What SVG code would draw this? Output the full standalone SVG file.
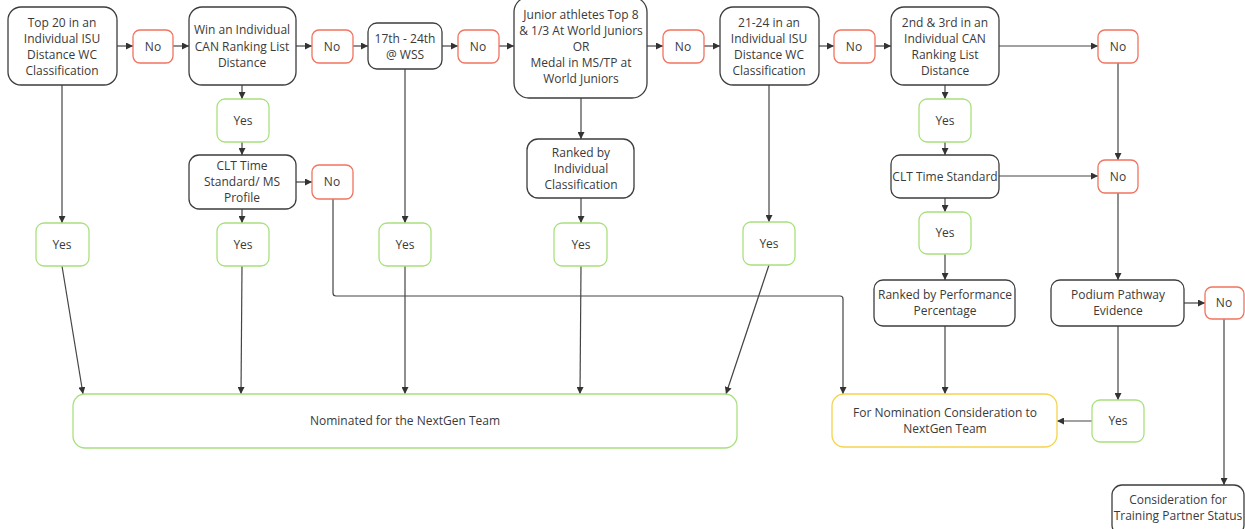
<svg xmlns="http://www.w3.org/2000/svg" width="1245" height="529" viewBox="0 0 1245 529">
<style>
.b{fill:#fff;stroke:#3d3d3d;stroke-width:1.3}
.n{fill:#fff;stroke:#f2735f;stroke-width:1.3}
.y{fill:#fff;stroke:#a8e07e;stroke-width:1.3}
.w{fill:#fff;stroke:#f5d44e;stroke-width:1.3}
text{font-family:"Open Sans","Liberation Sans",sans-serif;font-size:12px;fill:#3a3a3a;text-anchor:middle}
.c path,.c line{fill:none;stroke:#444;stroke-width:1.2;marker-end:url(#a)}
</style>
<defs>
<marker id="a" viewBox="0 0 10 10" refX="10" refY="5" markerWidth="7" markerHeight="7" markerUnits="userSpaceOnUse" orient="auto">
<path d="M0,0 L10,5 L0,10 z" fill="#333"/>
</marker>
</defs>
<rect width="1245" height="529" fill="#fff"/>
<g class="c">
<line x1="117" y1="46" x2="133" y2="46"/>
<line x1="173" y1="46" x2="189" y2="46"/>
<line x1="296" y1="46" x2="312" y2="46"/>
<line x1="353" y1="46" x2="368" y2="46"/>
<line x1="442" y1="46" x2="458" y2="46"/>
<line x1="499" y1="46" x2="514" y2="46"/>
<line x1="647" y1="46" x2="663" y2="46"/>
<line x1="704" y1="46" x2="720" y2="46"/>
<line x1="819" y1="46" x2="834" y2="46"/>
<line x1="875" y1="46" x2="891" y2="46"/>
<line x1="999" y1="46" x2="1098" y2="46"/>
<line x1="62" y1="85" x2="62" y2="223"/>
<line x1="242" y1="85" x2="242" y2="99"/>
<line x1="242" y1="142" x2="242" y2="155"/>
<line x1="242" y1="209" x2="242" y2="223"/>
<line x1="296" y1="182" x2="312" y2="182"/>
<line x1="405" y1="69" x2="405" y2="223"/>
<line x1="581" y1="98" x2="581" y2="139"/>
<line x1="581" y1="198" x2="581" y2="223"/>
<line x1="769" y1="85" x2="769" y2="222"/>
<line x1="945" y1="85" x2="945" y2="99"/>
<line x1="945" y1="142" x2="945" y2="155"/>
<line x1="945" y1="198" x2="945" y2="212"/>
<line x1="945" y1="254" x2="945" y2="280"/>
<line x1="999" y1="176" x2="1098" y2="176"/>
<line x1="1118" y1="63" x2="1118" y2="160"/>
<line x1="1118" y1="193" x2="1118" y2="280"/>
<line x1="1184" y1="303" x2="1205" y2="303"/>
<line x1="1118" y1="326" x2="1118" y2="400"/>
<line x1="1092" y1="421" x2="1057" y2="421"/>
<line x1="945" y1="326" x2="945" y2="394"/>
<line x1="1224" y1="319" x2="1224" y2="485"/>
<line x1="62" y1="266" x2="83" y2="394"/>
<line x1="242" y1="266" x2="241" y2="394"/>
<line x1="405" y1="266" x2="405" y2="394"/>
<line x1="581" y1="266" x2="580" y2="394"/>
<line x1="769" y1="265" x2="726" y2="394"/>
<path d="M333,199 V293 Q333,296 336,296 H840 Q843,296 843,299 V394"/>
</g>
<g id="n1"><rect class="b" x="8" y="7" width="109" height="78" rx="13"/><text x="62" y="27">Top 20 in an</text><text x="62" y="43">Individual ISU</text><text x="62" y="59">Distance WC</text><text x="62" y="75">Classification</text></g>
<g id="no1"><rect class="n" x="133" y="30" width="40" height="33" rx="7"/><text x="153" y="51">No</text></g>
<g id="n2"><rect class="b" x="189" y="7" width="107" height="78" rx="13"/><text x="242" y="34">Win an Individual</text><text x="242" y="51">CAN Ranking List</text><text x="242" y="67">Distance</text></g>
<g id="no2"><rect class="n" x="312" y="30" width="41" height="33" rx="7"/><text x="332" y="51">No</text></g>
<g id="n3"><rect class="b" x="368" y="23" width="74" height="46" rx="9"/><text x="405" y="43">17th - 24th</text><text x="405" y="59">@ WSS</text></g>
<g id="no3"><rect class="n" x="458" y="30" width="41" height="33" rx="7"/><text x="478" y="51">No</text></g>
<g id="n4"><rect class="b" x="514" y="-3" width="133" height="101" rx="15"/><text x="581" y="19">Junior athletes Top 8</text><text x="581" y="35">&amp; 1/3 At World Juniors</text><text x="581" y="51">OR</text><text x="581" y="67">Medal in MS/TP at</text><text x="581" y="83">World Juniors</text></g>
<g id="no4"><rect class="n" x="663" y="30" width="41" height="33" rx="7"/><text x="683" y="51">No</text></g>
<g id="n5"><rect class="b" x="720" y="7" width="99" height="78" rx="13"/><text x="769" y="27">21-24 in an</text><text x="769" y="43">Individual ISU</text><text x="769" y="59">Distance WC</text><text x="769" y="75">Classification</text></g>
<g id="no5"><rect class="n" x="834" y="30" width="41" height="33" rx="7"/><text x="854" y="51">No</text></g>
<g id="n6"><rect class="b" x="891" y="7" width="108" height="78" rx="13"/><text x="945" y="27">2nd &amp; 3rd in an</text><text x="945" y="43">Individual CAN</text><text x="945" y="59">Ranking List</text><text x="945" y="75">Distance</text></g>
<g id="no6"><rect class="n" x="1098" y="30" width="40" height="33" rx="7"/><text x="1118" y="51">No</text></g>
<g id="yes2"><rect class="y" x="217" y="99" width="52" height="43" rx="8"/><text x="243" y="125">Yes</text></g>
<g id="n7"><rect class="b" x="189" y="155" width="107" height="54" rx="10"/><text x="242" y="170">CLT Time</text><text x="242" y="186">Standard/ MS</text><text x="242" y="202">Profile</text></g>
<g id="no7"><rect class="n" x="312" y="165" width="41" height="34" rx="7"/><text x="332" y="186">No</text></g>
<g id="n8"><rect class="b" x="527" y="139" width="107" height="59" rx="11"/><text x="581" y="157">Ranked by</text><text x="581" y="173">Individual</text><text x="581" y="189">Classification</text></g>
<g id="yes6"><rect class="y" x="919" y="99" width="52" height="43" rx="8"/><text x="945" y="125">Yes</text></g>
<g id="n9"><rect class="b" x="891" y="155" width="108" height="43" rx="9"/><text x="945" y="181">CLT Time Standard</text></g>
<g id="no8"><rect class="n" x="1098" y="160" width="40" height="33" rx="7"/><text x="1118" y="181">No</text></g>
<g id="y1"><rect class="y" x="36" y="223" width="53" height="43" rx="8"/><text x="62" y="249">Yes</text></g>
<g id="y2"><rect class="y" x="217" y="223" width="52" height="43" rx="8"/><text x="243" y="249">Yes</text></g>
<g id="y3"><rect class="y" x="379" y="223" width="52" height="43" rx="8"/><text x="405" y="249">Yes</text></g>
<g id="y4"><rect class="y" x="554" y="223" width="53" height="43" rx="8"/><text x="581" y="249">Yes</text></g>
<g id="y5"><rect class="y" x="743" y="222" width="52" height="43" rx="8"/><text x="769" y="248">Yes</text></g>
<g id="y7"><rect class="y" x="919" y="212" width="52" height="42" rx="8"/><text x="945" y="237">Yes</text></g>
<g id="n10"><rect class="b" x="874" y="280" width="141" height="46" rx="9"/><text x="945" y="299">Ranked by Performance</text><text x="945" y="315">Percentage</text></g>
<g id="n11"><rect class="b" x="1051" y="280" width="133" height="46" rx="9"/><text x="1118" y="299">Podium Pathway</text><text x="1118" y="315">Evidence</text></g>
<g id="no9"><rect class="n" x="1205" y="287" width="39" height="32" rx="7"/><text x="1224" y="307">No</text></g>
<g id="nom"><rect class="y" x="73" y="394" width="664" height="54" rx="12"/><text x="405" y="425">Nominated for the NextGen Team</text></g>
<g id="cons"><rect class="w" x="832" y="394" width="225" height="53" rx="12"/><text x="945" y="417">For Nomination Consideration to</text><text x="945" y="433">NextGen Team</text></g>
<g id="y8"><rect class="y" x="1092" y="400" width="52" height="42" rx="8"/><text x="1118" y="425">Yes</text></g>
<g id="tp"><rect class="b" x="1112" y="485" width="132" height="50" rx="10"/><text x="1178" y="504">Consideration for</text><text x="1178" y="520">Training Partner Status</text></g>
</svg>
